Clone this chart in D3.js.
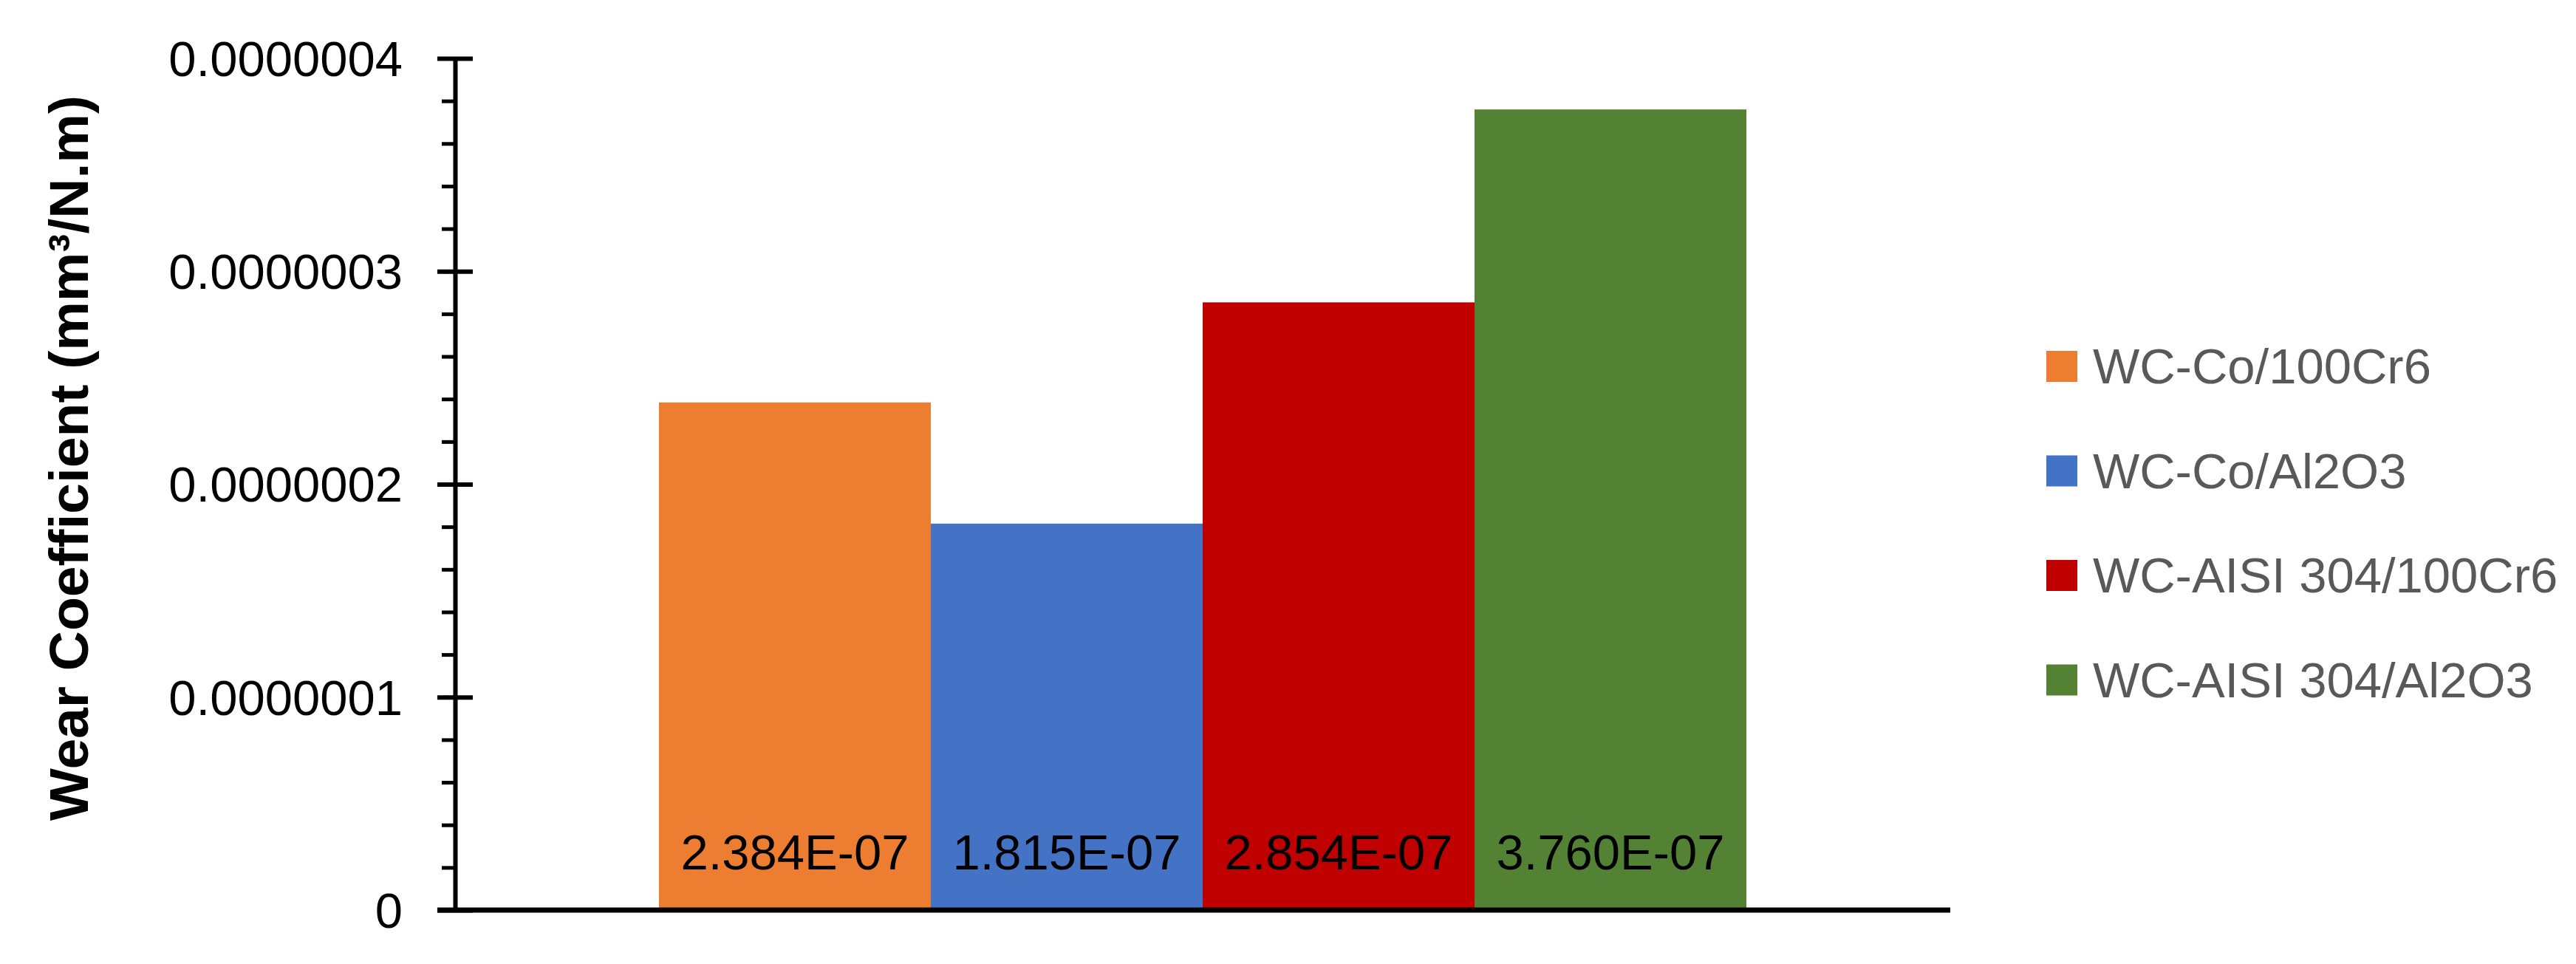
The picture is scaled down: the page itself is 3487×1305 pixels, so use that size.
<!DOCTYPE html>
<html>
<head>
<meta charset="utf-8">
<script src="https://cdn.jsdelivr.net/npm/d3@7"></script>
<style>
  html, body { margin: 0; padding: 0; background: #ffffff; }
  svg { display: block; }
</style>
</head>
<body>
<svg id="chart" width="3487" height="1305"></svg>
<script>
// ---- data ----
const categories = [""];
const seriesNames = ["WC-Co/100Cr6", "WC-Co/Al2O3", "WC-AISI 304/100Cr6", "WC-AISI 304/Al2O3"];
const seriesValues = [2.384e-7, 1.815e-7, 2.854e-7, 3.760e-7];
const valueLabels = ["2.384E-07", "1.815E-07", "2.854E-07", "3.760E-07"];
const seriesColors = ["#ED7D31", "#4472C4", "#C00000", "#548235"];
const yTickValues = [0, 1e-7, 2e-7, 3e-7, 4e-7];
const yTickLabels = ["0", "0.0000001", "0.0000002", "0.0000003", "0.0000004"];
const yMinorTickValues = d3.range(0, 21).map(i => i * 2e-8);
const yTitle = "Wear Coefficient (mm³/N.m)";

// ---- layout ----
const FONT = "'Liberation Sans', Arial, sans-serif";
const plot = { left: 616, right: 2640, top: 79, bottom: 1232 };

const svg = d3.select("#chart");

const y = d3.scaleLinear().domain([0, 4e-7]).range([plot.bottom, plot.top]);
const x0 = d3.scaleBand().domain(categories).range([plot.left, plot.right])
  .paddingInner(0).paddingOuter(0.1875);
const x1 = d3.scaleBand().domain(seriesNames).range([0, x0.bandwidth()]).padding(0);

const rows = seriesNames.map((s, i) => ({ name: s, value: seriesValues[i], label: valueLabels[i], color: seriesColors[i], cat: categories[0] }));

// bars
svg.append("g").selectAll("rect").data(rows).join("rect")
  .attr("x", d => x0(d.cat) + x1(d.name))
  .attr("y", d => y(d.value))
  .attr("width", x1.bandwidth())
  .attr("height", d => y(0) - y(d.value))
  .attr("fill", d => d.color);

// data labels
svg.append("g").selectAll("text").data(rows).join("text")
  .attr("x", d => x0(d.cat) + x1(d.name) + x1.bandwidth() / 2)
  .attr("y", y(0) - 55)
  .attr("text-anchor", "middle")
  .attr("font-family", FONT)
  .attr("font-size", 67)
  .attr("fill", "#000000")
  .text(d => d.label);

// minor ticks (outside)
const minorAxis = d3.axisLeft(y).tickValues(yMinorTickValues).tickSize(18).tickFormat("");
const gMinor = svg.append("g").attr("transform", `translate(${plot.left},0)`).call(minorAxis);
gMinor.select(".domain").remove();
gMinor.selectAll(".tick line").attr("stroke", "#000").attr("stroke-width", 5);

// major axis
const yAxis = d3.axisLeft(y).tickValues(yTickValues).tickSize(24).tickSizeOuter(0)
  .tickPadding(48)
  .tickFormat((d, i) => yTickLabels[i]);
const gY = svg.append("g").attr("transform", `translate(${plot.left},0)`).call(yAxis);
gY.select(".domain").attr("stroke", "#000").attr("stroke-width", 6);
gY.selectAll(".tick line").attr("stroke", "#000").attr("stroke-width", 6).attr("x2", -24).attr("x1", 24);
gY.selectAll(".tick text")
  .attr("font-family", FONT)
  .attr("font-size", 67)
  .attr("fill", "#000")
  .attr("x", -71)
  .attr("dy", "0.35em");

// x axis line
svg.append("line")
  .attr("x1", plot.left - 24).attr("x2", plot.right)
  .attr("y1", y(0)).attr("y2", y(0))
  .attr("stroke", "#000").attr("stroke-width", 7);

// y title
svg.append("text")
  .attr("transform", `translate(119, 620) rotate(-90)`)
  .attr("text-anchor", "middle")
  .attr("font-family", FONT)
  .attr("font-weight", "bold")
  .attr("font-size", 75)
  .attr("fill", "#000")
  .text(yTitle);

// legend
const legend = svg.append("g").attr("transform", "translate(2770, 496)");
const lg = legend.selectAll("g").data(rows).join("g")
  .attr("transform", (d, i) => `translate(0, ${i * 141.5})`);
lg.append("rect").attr("x", 0).attr("y", -21).attr("width", 42).attr("height", 42).attr("fill", d => d.color);
lg.append("text").attr("x", 63).attr("y", 0).attr("dy", "0.35em")
  .attr("font-family", FONT).attr("font-size", 67).attr("fill", "#595959")
  .text(d => d.name);
</script>
</body>
</html>
